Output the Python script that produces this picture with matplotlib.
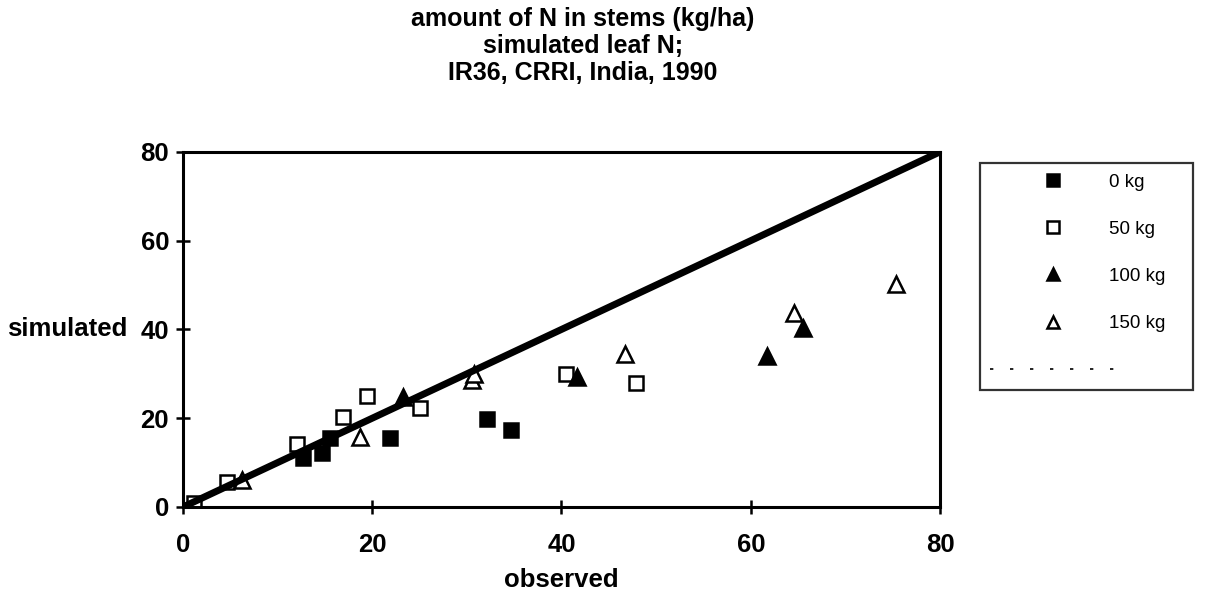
import matplotlib
matplotlib.use("Agg")
import matplotlib.pyplot as plt
from matplotlib.lines import Line2D

plt.rcParams['font.family'] = ['Liberation Sans', 'DejaVu Sans']

# ---- data ----
obs_0kg = [12.7, 14.7, 15.5, 21.9, 32.1, 34.7]
sim_0kg = [11.0, 12.1, 15.5, 15.5, 19.9, 17.3]

obs_50kg = [1.2, 4.6, 12.1, 16.9, 19.4, 25.0, 40.5, 47.9]
sim_50kg = [0.8, 5.6, 14.3, 20.2, 25.1, 22.4, 30.0, 28.0]

obs_100kg = [23.2, 41.6, 61.7, 65.5]
sim_100kg = [24.7, 29.2, 34.1, 40.4]

obs_150kg = [6.2, 18.7, 30.5, 30.8, 46.7, 64.6, 75.4]
sim_150kg = [6.0, 15.7, 28.5, 30.0, 34.5, 43.7, 50.2]

one_to_one = [0, 80]
ticks = [0, 20, 40, 60, 80]
series_labels = ['0 kg', '50 kg', '100 kg', '150 kg']
title_lines = ['amount of N in stems (kg/ha)', 'simulated leaf N;', 'IR36, CRRI, India, 1990']

fig = plt.figure(figsize=(12.07, 6.05), dpi=100)
ax = fig.add_axes([0.1516, 0.162, 0.6272, 0.587])

ms = 10.5
mew = 1.8
h0, = ax.plot(obs_0kg, sim_0kg, 's', ms=ms, mfc='black', mec='black', mew=mew, zorder=2)
h50, = ax.plot(obs_50kg, sim_50kg, 's', ms=ms, mfc='white', mec='black', mew=mew, zorder=2)
h100, = ax.plot(obs_100kg, sim_100kg, '^', ms=ms + 1, mfc='black', mec='black', mew=mew, zorder=2)
h150, = ax.plot(obs_150kg, sim_150kg, '^', ms=ms + 1, mfc='white', mec='black', mew=mew, zorder=2)
ax.plot(one_to_one, one_to_one, '-', color='black', lw=5, solid_capstyle='butt', zorder=3)

ax.set_xlim(0, 80)
ax.set_ylim(0, 80)
ax.set_xticks(ticks)
ax.set_yticks(ticks)
ax.set_xticklabels([str(t) for t in ticks], fontsize=18.5, fontweight='bold')
ax.set_yticklabels([str(t) for t in ticks], fontsize=18.5, fontweight='bold')
ax.tick_params(direction='inout', length=10, width=1.8, colors='black')
ax.tick_params(axis='x', pad=14)
ax.tick_params(axis='y', pad=5)
for s in ax.spines.values():
    s.set_linewidth(2.2)
    s.set_color('black')

ax.set_xlabel('observed', fontsize=18.5, fontweight='bold', labelpad=8)
ax.text(-0.073, 0.5, 'simulated', transform=ax.transAxes, fontsize=18.5,
        fontweight='bold', ha='right', va='center')

fig.text(0.483, 0.988, '\n'.join(title_lines), ha='center', va='top',
         fontsize=18, fontweight='bold', linespacing=1.16)

hline = Line2D([], [], color='black', lw=1.2, ls=(0, (2, 10)))
leg = fig.legend([h0, h50, h100, h150, hline], series_labels + [''],
                 loc='upper left', bbox_to_anchor=(0.812, 0.352, 0.1765, 0.378),
                 mode='expand', borderaxespad=0, fontsize=13.5,
                 handlelength=6.7, handletextpad=-0.35, borderpad=0.55,
                 labelspacing=1.6, fancybox=False, frameon=True,
                 markerscale=0.8)
leg.get_frame().set_edgecolor('black')
leg.get_frame().set_linewidth(1.6)

fig.savefig('out.png', dpi=100)
